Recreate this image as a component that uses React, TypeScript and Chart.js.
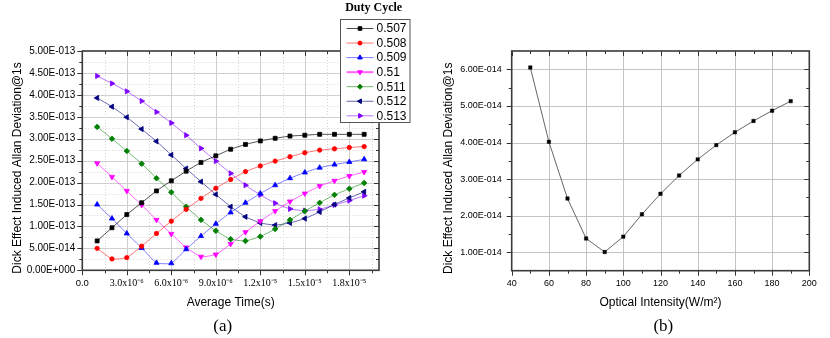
import React, { useEffect, useRef } from 'react';
import { Chart, registerables } from 'chart.js';
import { drawPoint } from 'chart.js/helpers';

Chart.register(...registerables);

const SANS = "'Liberation Sans', Arial, sans-serif";
const SERIF = "'Liberation Serif', 'Times New Roman', serif";

// ---------------- Panel (a) data ----------------
const averageTimes = [1e-6, 2e-6, 3e-6, 4e-6, 5e-6, 6e-6, 7e-6, 8e-6, 9e-6, 1.0e-5, 1.1e-5, 1.2e-5, 1.3e-5, 1.4e-5, 1.5e-5, 1.6e-5, 1.7e-5, 1.8e-5, 1.9e-5];
const duty0507 = [0.67e-13, 0.97e-13, 1.27e-13, 1.54e-13, 1.81e-13, 2.04e-13, 2.26e-13, 2.46e-13, 2.61e-13, 2.76e-13, 2.87e-13, 2.95e-13, 3.01e-13, 3.06e-13, 3.08e-13, 3.10e-13, 3.10e-13, 3.10e-13, 3.10e-13];
const duty0508 = [0.50e-13, 0.26e-13, 0.29e-13, 0.55e-13, 0.84e-13, 1.12e-13, 1.39e-13, 1.64e-13, 1.87e-13, 2.07e-13, 2.25e-13, 2.38e-13, 2.49e-13, 2.59e-13, 2.68e-13, 2.74e-13, 2.77e-13, 2.80e-13, 2.82e-13];
const duty0509 = [1.50e-13, 1.18e-13, 0.84e-13, 0.51e-13, 0.17e-13, 0.16e-13, 0.48e-13, 0.78e-13, 1.06e-13, 1.32e-13, 1.54e-13, 1.75e-13, 1.94e-13, 2.10e-13, 2.23e-13, 2.34e-13, 2.41e-13, 2.47e-13, 2.53e-13];
const duty0510 = [2.44e-13, 2.13e-13, 1.81e-13, 1.49e-13, 1.15e-13, 0.83e-13, 0.52e-13, 0.31e-13, 0.36e-13, 0.60e-13, 0.87e-13, 1.12e-13, 1.35e-13, 1.57e-13, 1.75e-13, 1.92e-13, 2.04e-13, 2.15e-13, 2.24e-13];
const duty0511 = [3.27e-13, 3.00e-13, 2.72e-13, 2.43e-13, 2.10e-13, 1.78e-13, 1.45e-13, 1.15e-13, 0.90e-13, 0.71e-13, 0.67e-13, 0.77e-13, 0.94e-13, 1.15e-13, 1.35e-13, 1.54e-13, 1.72e-13, 1.86e-13, 1.99e-13];
const duty0512 = [3.93e-13, 3.73e-13, 3.49e-13, 3.22e-13, 2.94e-13, 2.63e-13, 2.32e-13, 2.02e-13, 1.73e-13, 1.45e-13, 1.22e-13, 1.08e-13, 1.03e-13, 1.08e-13, 1.18e-13, 1.33e-13, 1.50e-13, 1.65e-13, 1.79e-13];
const duty0513 = [4.43e-13, 4.26e-13, 4.08e-13, 3.86e-13, 3.61e-13, 3.36e-13, 3.08e-13, 2.78e-13, 2.49e-13, 2.21e-13, 1.94e-13, 1.72e-13, 1.53e-13, 1.40e-13, 1.36e-13, 1.39e-13, 1.49e-13, 1.59e-13, 1.70e-13];
const dutyLabels = ['0.507', '0.508', '0.509', '0.51', '0.511', '0.512', '0.513'];
const dutySeries = [duty0507, duty0508, duty0509, duty0510, duty0511, duty0512, duty0513];

const aXTickValues = [0, 3e-6, 6e-6, 9e-6, 1.2e-5, 1.5e-5, 1.8e-5];
const aXTickLabels = ['0.0', '3.0x10⁻⁶', '6.0x10⁻⁶', '9.0x10⁻⁶', '1.2x10⁻⁵', '1.5x10⁻⁵', '1.8x10⁻⁵'];
const aXMinorValues = [1.5e-6, 4.5e-6, 7.5e-6, 1.05e-5, 1.35e-5, 1.65e-5, 1.95e-5];
const aYTickValues = [0, 0.5e-13, 1.0e-13, 1.5e-13, 2.0e-13, 2.5e-13, 3.0e-13, 3.5e-13, 4.0e-13, 4.5e-13, 5.0e-13];
const aYTickLabels = ['0.00E+000', '5.00E-014', '1.00E-013', '1.50E-013', '2.00E-013', '2.50E-013', '3.00E-013', '3.50E-013', '4.00E-013', '4.50E-013', '5.00E-013'];
const aYMinorValues = [0.25e-13, 0.75e-13, 1.25e-13, 1.75e-13, 2.25e-13, 2.75e-13, 3.25e-13, 3.75e-13, 4.25e-13, 4.75e-13];

// ---------------- Panel (b) data ----------------
const opticalIntensity = [50, 60, 70, 80, 90, 100, 110, 120, 130, 140, 150, 160, 170, 180, 190];
const dickDeviation = [6.05e-14, 4.02e-14, 2.47e-14, 1.38e-14, 1.01e-14, 1.43e-14, 2.04e-14, 2.60e-14, 3.10e-14, 3.54e-14, 3.93e-14, 4.28e-14, 4.59e-14, 4.87e-14, 5.13e-14];
const bXTickValues = [40, 60, 80, 100, 120, 140, 160, 180, 200];
const bXTickLabels = ['40', '60', '80', '100', '120', '140', '160', '180', '200'];
const bXMinorValues = [50, 70, 90, 110, 130, 150, 170, 190];
const bYTickValues = [1e-14, 2e-14, 3e-14, 4e-14, 5e-14, 6e-14];
const bYTickLabels = ['1.00E-014', '2.00E-014', '3.00E-014', '4.00E-014', '5.00E-014', '6.00E-014'];
const bYMinorValues = [1.5e-14, 2.5e-14, 3.5e-14, 4.5e-14, 5.5e-14];

// ---------------- styles ----------------
const seriesStyles = [
  { color: '#000000', line: 'rgba(0,0,0,0.7)', pointStyle: 'rect', rotation: 0, radius: 2.8 },
  { color: '#FF0000', line: 'rgba(255,0,0,0.55)', pointStyle: 'circle', rotation: 0, radius: 2.2 },
  { color: '#0000FF', line: 'rgba(0,0,255,0.5)', pointStyle: 'triangle', rotation: 0, radius: 3 },
  { color: '#FF00FF', line: 'rgba(255,0,255,0.6)', pointStyle: 'triangle', rotation: 180, radius: 3 },
  { color: '#008000', line: 'rgba(0,128,0,0.55)', pointStyle: 'rectRot', rotation: 0, radius: 2.8 },
  { color: '#000080', line: 'rgba(0,0,128,0.6)', pointStyle: 'triangle', rotation: -90, radius: 3 },
  { color: '#8000FF', line: 'rgba(128,0,255,0.55)', pointStyle: 'triangle', rotation: 90, radius: 3 },
];

type Spec = {
  xMajor: number[]; xMinor: number[]; yMajor: number[]; yMinor: number[];
  gridXMajor: number[]; gridXMinor: number[]; gridYMajor: number[]; gridYMinor: number[];
  gridColor: string; minorColor: string;
  xTitle: string; yTitle: string; xTitleY: number; yTitleX: number; yTitleY: number;
  panel: string; panelX: number; panelY: number;
  legend: boolean;
};

function framePlugin(spec: Spec) {
  return {
    id: 'originFrame',
    beforeDatasetsDraw(chart: any) {
      const ctx = chart.ctx;
      const { left, right, top, bottom } = chart.chartArea;
      const xs = chart.scales.x;
      const ys = chart.scales.y;
      ctx.save();
      ctx.lineWidth = 1;
      const hLine = (v: number, color: string, dash: number[]) => {
        const y = Math.round(ys.getPixelForValue(v)) + 0.5;
        ctx.strokeStyle = color; ctx.setLineDash(dash);
        ctx.beginPath(); ctx.moveTo(left, y); ctx.lineTo(right, y); ctx.stroke();
      };
      const vLine = (v: number, color: string, dash: number[]) => {
        const x = Math.round(xs.getPixelForValue(v)) + 0.5;
        ctx.strokeStyle = color; ctx.setLineDash(dash);
        ctx.beginPath(); ctx.moveTo(x, top); ctx.lineTo(x, bottom); ctx.stroke();
      };
      spec.gridYMinor.forEach((v) => hLine(v, spec.minorColor, [1, 2]));
      spec.gridXMinor.forEach((v) => vLine(v, spec.minorColor, [1, 2]));
      spec.gridYMajor.forEach((v) => hLine(v, spec.gridColor, []));
      spec.gridXMajor.forEach((v) => vLine(v, spec.gridColor, []));
      ctx.restore();
    },
    afterDatasetsDraw(chart: any) {
      const ctx = chart.ctx;
      const { left, right, top, bottom } = chart.chartArea;
      const xs = chart.scales.x;
      const ys = chart.scales.y;
      ctx.save();
      ctx.setLineDash([]);
      ctx.strokeStyle = '#333333';
      ctx.lineWidth = 1;
      const tickX = (v: number, len: number) => {
        const x = Math.round(xs.getPixelForValue(v)) + 0.5;
        ctx.beginPath();
        ctx.moveTo(x, bottom); ctx.lineTo(x, bottom + len);
        ctx.moveTo(x, top); ctx.lineTo(x, top + len);
        ctx.stroke();
      };
      const tickY = (v: number, len: number) => {
        const y = Math.round(ys.getPixelForValue(v)) + 0.5;
        ctx.beginPath();
        ctx.moveTo(left - len, y); ctx.lineTo(left, y);
        ctx.moveTo(right - len, y); ctx.lineTo(right, y);
        ctx.stroke();
      };
      spec.xMajor.forEach((v) => tickX(v, 5));
      spec.xMinor.forEach((v) => tickX(v, 3));
      spec.yMajor.forEach((v) => tickY(v, 5));
      spec.yMinor.forEach((v) => tickY(v, 3));
      ctx.lineWidth = 1.6;
      ctx.strokeStyle = '#3a3a3a';
      ctx.strokeRect(left, top, right - left, bottom - top);

      // axis titles
      ctx.fillStyle = '#000';
      ctx.font = `12px ${SANS}`;
      ctx.textAlign = 'center';
      ctx.textBaseline = 'middle';
      ctx.fillText(spec.xTitle, (left + right) / 2, spec.xTitleY);
      ctx.save();
      ctx.translate(spec.yTitleX, spec.yTitleY);
      ctx.rotate(-Math.PI / 2);
      ctx.fillText(spec.yTitle, 0, 0);
      ctx.restore();

      // panel label
      ctx.font = `17px ${SERIF}`;
      ctx.fillText(spec.panel, spec.panelX, spec.panelY);

      if (spec.legend) {
        const bx = 340.5, by = 19.5, bw = 69.5, bh = 103;
        ctx.fillStyle = '#ffffff';
        ctx.fillRect(bx, by, bw, bh);
        ctx.strokeStyle = '#555555';
        ctx.lineWidth = 1;
        ctx.strokeRect(bx, by, bw, bh);
        ctx.fillStyle = '#000';
        ctx.font = `bold 12px ${SERIF}`;
        ctx.textAlign = 'center';
        ctx.fillText('Duty Cycle', 373.7, 8);
        chart.data.datasets.forEach((ds: any, k: number) => {
          const st = seriesStyles[k];
          const y = 28.5 + k * 14.55;
          ctx.strokeStyle = st.line;
          ctx.lineWidth = k === 3 ? 2 : 1;
          ctx.beginPath(); ctx.moveTo(346.5, y); ctx.lineTo(373.5, y); ctx.stroke();
          ctx.fillStyle = st.color;
          ctx.strokeStyle = st.color;
          ctx.lineWidth = 1;
          drawPoint(ctx, { pointStyle: st.pointStyle, rotation: st.rotation, radius: st.radius * 0.9, borderWidth: 1 } as any, 360, y);
          ctx.fillStyle = '#000';
          ctx.font = `12px ${SANS}`;
          ctx.textAlign = 'left';
          ctx.fillText(ds.label, 376.5, y + 0.5);
        });
      }
      ctx.restore();
    },
  };
}

function setTicks(values: number[]) {
  return (scale: any) => {
    scale.ticks = values.map((v) => ({ value: v }));
  };
}

const hiddenGrid = { display: false, drawTicks: false, tickLength: 0 };

function ChartA() {
  const ref = useRef<HTMLCanvasElement>(null);
  useEffect(() => {
    if (!ref.current) return;
    const spec: Spec = {
      xMajor: aXTickValues, xMinor: aXMinorValues, yMajor: aYTickValues, yMinor: aYMinorValues,
      gridXMajor: aXTickValues.slice(1), gridXMinor: aXMinorValues,
      gridYMajor: aYTickValues.slice(1, -1), gridYMinor: aYMinorValues,
      gridColor: '#cfcfcf', minorColor: '#d4d4d4',
      xTitle: 'Average Time(s)', yTitle: 'Dick Effect Induced Allan Deviation@1s',
      xTitleY: 302.7, yTitleX: 17.5, yTitleY: 168,
      panel: '(a)', panelX: 222.7, panelY: 326.7, legend: true,
    };
    const chart = new Chart(ref.current, {
      type: 'line',
      data: {
        datasets: dutySeries.map((vals, k) => ({
          label: dutyLabels[k],
          data: averageTimes.map((t, i) => ({ x: t, y: vals[i] })),
          borderColor: seriesStyles[k].line,
          borderWidth: 1,
          backgroundColor: seriesStyles[k].color,
          pointStyle: seriesStyles[k].pointStyle as any,
          pointRotation: seriesStyles[k].rotation,
          pointRadius: seriesStyles[k].radius,
          pointBackgroundColor: seriesStyles[k].color,
          pointBorderColor: seriesStyles[k].color,
          pointBorderWidth: 0.8,
          tension: 0.15,
          fill: false,
        })),
      },
      options: {
        animation: false,
        responsive: false,
        devicePixelRatio: 1,
        layout: { padding: { left: 0, top: 51, right: 36, bottom: 0 } },
        plugins: { legend: { display: false }, tooltip: { enabled: false } },
        scales: {
          x: {
            type: 'linear', min: 0, max: 2e-5,
            afterBuildTicks: setTicks(aXTickValues),
            afterFit: (s: any) => { s.height = 67.7; },
            grid: hiddenGrid, border: { display: false },
            ticks: {
              autoSkip: false, maxRotation: 0, padding: 7, color: '#000',
              font: (c: any) => (c.index === 0 ? { family: SANS, size: 9.5 } : { family: SERIF, size: 10 }),
              callback: (_v: any, i: number) => aXTickLabels[i],
            },
          },
          y: {
            type: 'linear', min: 0, max: 5e-13,
            afterBuildTicks: setTicks(aYTickValues),
            afterFit: (s: any) => { s.width = 82.3; },
            grid: hiddenGrid, border: { display: false },
            ticks: {
              autoSkip: false, padding: 7, color: '#000',
              font: { family: SANS, size: 10 },
              callback: (_v: any, i: number) => aYTickLabels[i],
            },
          },
        },
      } as any,
      plugins: [framePlugin(spec)],
    });
    return () => chart.destroy();
  }, []);
  return <canvas ref={ref} width={415} height={338} style={{ position: 'absolute', left: 0, top: 0 }} />;
}

function ChartB() {
  const ref = useRef<HTMLCanvasElement>(null);
  useEffect(() => {
    if (!ref.current) return;
    const spec: Spec = {
      xMajor: bXTickValues, xMinor: bXMinorValues, yMajor: bYTickValues, yMinor: bYMinorValues,
      gridXMajor: bXTickValues.slice(1, -1), gridXMinor: [],
      gridYMajor: bYTickValues, gridYMinor: [],
      gridColor: '#c4c4c4', minorColor: '#e0e0e0',
      xTitle: 'Optical Intensity(W/m²)', yTitle: 'Dick Effect Induced Allan Deviation@1s',
      xTitleY: 302.7, yTitleX: 33.3, yTitleY: 168.3,
      panel: '(b)', panelX: 248.3, panelY: 326.7, legend: false,
    };
    const chart = new Chart(ref.current, {
      type: 'line',
      data: {
        datasets: [{
          label: 'Dick effect',
          data: opticalIntensity.map((x, i) => ({ x, y: dickDeviation[i] })),
          borderColor: '#555555',
          borderWidth: 0.9,
          pointStyle: 'rect',
          pointRadius: 2.4,
          pointBackgroundColor: '#000',
          pointBorderColor: '#000',
          pointBorderWidth: 0.5,
          tension: 0,
          fill: false,
        }],
      },
      options: {
        animation: false,
        responsive: false,
        devicePixelRatio: 1,
        layout: { padding: { left: 0, top: 51, right: 20.7, bottom: 0 } },
        plugins: { legend: { display: false }, tooltip: { enabled: false } },
        scales: {
          x: {
            type: 'linear', min: 40, max: 200,
            afterBuildTicks: setTicks(bXTickValues),
            afterFit: (s: any) => { s.height = 67.3; },
            grid: hiddenGrid, border: { display: false },
            ticks: {
              autoSkip: false, maxRotation: 0, padding: 7, color: '#000',
              font: { family: SANS, size: 9 },
              callback: (_v: any, i: number) => bXTickLabels[i],
            },
          },
          y: {
            type: 'linear', min: 0.5e-14, max: 6.5e-14,
            afterBuildTicks: setTicks(bYTickValues),
            afterFit: (s: any) => { s.width = 96.7; },
            grid: hiddenGrid, border: { display: false },
            ticks: {
              autoSkip: false, padding: 10, color: '#000',
              font: { family: SANS, size: 9 },
              callback: (_v: any, i: number) => bYTickLabels[i],
            },
          },
        },
      } as any,
      plugins: [framePlugin(spec)],
    });
    return () => chart.destroy();
  }, []);
  return <canvas ref={ref} width={415} height={338} style={{ position: 'absolute', left: 415, top: 0 }} />;
}

export default function App() {
  return (
    <div style={{ position: 'absolute', left: 0, top: 0, width: 830, height: 338, background: '#fff' }}>
      <ChartA />
      <ChartB />
    </div>
  );
}
